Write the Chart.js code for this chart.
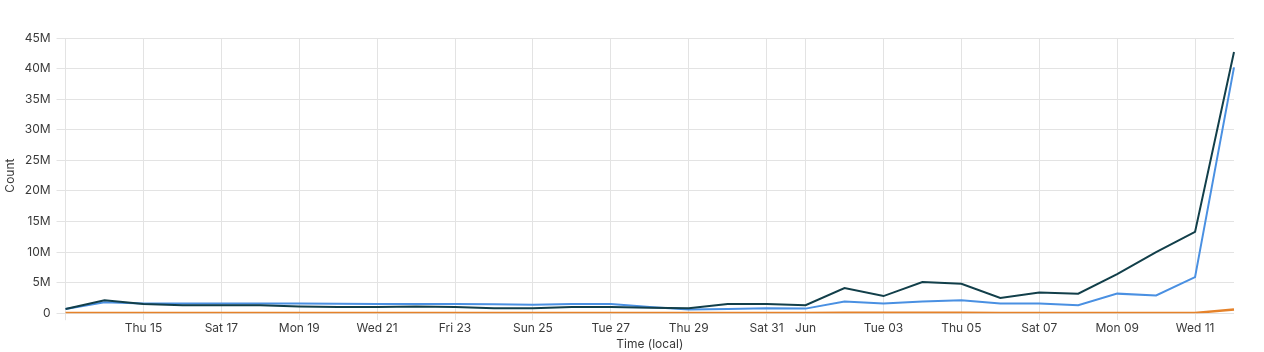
<!DOCTYPE html>
<html>
<head>
<meta charset="utf-8">
<script src="https://cdn.jsdelivr.net/npm/chart.js@4"></script>
<style>
  html, body { margin: 0; padding: 0; background: #fff; }
  #wrap { width: 1264px; height: 352px; }
</style>
</head>
<body>
<div id="wrap"><canvas id="chart"></canvas></div>
<script>
// one point per day, May 13 .. Jun 12
const days = [
  'Tue 13', 'Wed 14', 'Thu 15', 'Fri 16', 'Sat 17', 'Sun 18', 'Mon 19', 'Tue 20',
  'Wed 21', 'Thu 22', 'Fri 23', 'Sat 24', 'Sun 25', 'Mon 26', 'Tue 27', 'Wed 28',
  'Thu 29', 'Fri 30', 'Sat 31', 'Jun', 'Mon 02', 'Tue 03', 'Wed 04', 'Thu 05',
  'Fri 06', 'Sat 07', 'Sun 08', 'Mon 09', 'Tue 10', 'Wed 11', 'Thu 12'
];
// which day labels are shown on the axis
const shownTicks = [
  'Thu 15', 'Sat 17', 'Mon 19', 'Wed 21', 'Fri 23', 'Sun 25', 'Tue 27',
  'Thu 29', 'Sat 31', 'Jun', 'Tue 03', 'Thu 05', 'Sat 07', 'Mon 09', 'Wed 11'
];

const totalCounts = [
  0.7, 2.1, 1.5, 1.3, 1.3, 1.3, 1.1, 1.0, 1.0, 1.1, 1.0, 0.8, 0.8, 1.0, 1.0, 0.9,
  0.8, 1.5, 1.5, 1.3, 4.1, 2.8, 5.1, 4.8, 2.5, 3.4, 3.2, 6.4, 10.0, 13.3, 42.7
];
const blueCounts = [
  0.7, 1.8, 1.6, 1.6, 1.6, 1.6, 1.6, 1.55, 1.5, 1.5, 1.5, 1.45, 1.4, 1.5, 1.5, 1.0,
  0.6, 0.7, 0.8, 0.75, 1.9, 1.6, 1.9, 2.1, 1.6, 1.6, 1.3, 3.2, 2.9, 5.9, 40.2
];
const orangeCounts = [
  0.05, 0.05, 0.05, 0.05, 0.05, 0.05, 0.05, 0.05, 0.05, 0.05, 0.05, 0.05, 0.05, 0.05, 0.05, 0.05,
  0.05, 0.05, 0.05, 0.05, 0.08, 0.08, 0.08, 0.08, 0.05, 0.05, 0.05, 0.05, 0.05, 0.05, 0.6
];

const yTicks = [0, 5, 10, 15, 20, 25, 30, 35, 40, 45];

const gridColor = '#e3e3e3';
const textColor = '#3a3a3a';

new Chart(document.getElementById('chart'), {
  type: 'line',
  data: {
    labels: days,
    datasets: [
      {
        label: 'Total',
        data: totalCounts.map(v => v * 1e6),
        borderColor: '#123f4a',
        borderWidth: 2,
        pointRadius: 0,
        tension: 0
      },
      {
        label: 'Blue',
        data: blueCounts.map(v => v * 1e6),
        borderColor: '#4a90e2',
        borderWidth: 2,
        pointRadius: 0,
        tension: 0
      },
      {
        label: 'Orange',
        data: orangeCounts.map(v => v * 1e6),
        borderColor: '#e5822a',
        borderWidth: 2.5,
        pointRadius: 0,
        tension: 0
      }
    ]
  },
  options: {
    responsive: true,
    maintainAspectRatio: false,
    animation: false,
    layout: { padding: { top: 38, right: 30, left: 3, bottom: 0 } },
    plugins: {
      legend: { display: false },
      tooltip: { enabled: false }
    },
    scales: {
      x: {
        offset: false,
        border: { display: false },
        grid: {
          color: ctx => (ctx.index === 0 || shownTicks.includes(days[ctx.index])) ? gridColor : 'rgba(0,0,0,0)',
          tickLength: 7
        },
        ticks: {
          autoSkip: false,
          maxRotation: 0,
          color: textColor,
          font: { family: 'Inter', size: 12 },
          padding: 1,
          callback: (val, i) => shownTicks.includes(days[i]) ? days[i] : ''
        },
        title: {
          display: true,
          text: 'Time (local)',
          color: textColor,
          font: { family: 'Inter', size: 12 },
          padding: { top: 1, bottom: 0 }
        }
      },
      y: {
        min: 0,
        max: 45e6,
        border: { display: false },
        afterBuildTicks: axis => { axis.ticks = yTicks.map(v => ({ value: v * 1e6 })); },
        grid: { color: gridColor, tickLength: 9 },
        ticks: {
          color: textColor,
          font: { family: 'Inter', size: 12 },
          padding: 6,
          callback: v => v === 0 ? '0' : (v / 1e6) + 'M'
        },
        title: {
          display: true,
          text: 'Count',
          color: textColor,
          font: { family: 'Inter', size: 12 },
          padding: { top: 0, bottom: 1 }
        }
      }
    }
  }
});
</script>
</body>
</html>
